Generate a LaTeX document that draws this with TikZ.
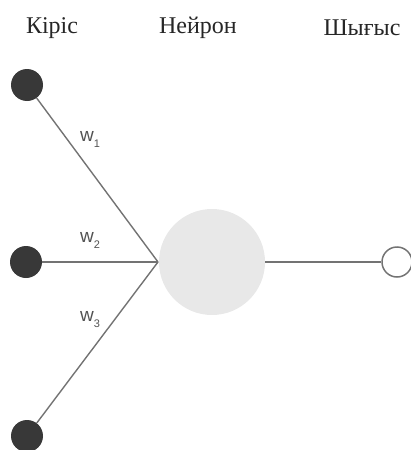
\documentclass[tikz,border=0pt]{standalone}
\usepackage{fontspec}
\setmainfont{Liberation Serif}
\newfontfamily\wfont{Liberation Sans}
\newcommand{\wsub}[1]{w\raisebox{-6pt}{\fontsize{11}{11}\selectfont #1}}
\begin{document}
\begin{tikzpicture}[x=1pt,y=-1pt,
  inp/.style={circle,fill=black!78,draw=none,minimum size=32pt,inner sep=0pt},
  neur/.style={circle,fill=gray!18,draw=none,minimum size=106pt,inner sep=0pt},
  outp/.style={circle,fill=white,draw=black!55,line width=1.5pt,minimum size=30pt,inner sep=0pt},
  conn/.style={draw=black!55,line width=1.4pt},
  wlab/.style={font=\wfont\fontsize{19}{19}\selectfont,text=black!68,inner sep=0pt},
  head/.style={font=\fontsize{24}{24}\selectfont,text=black!85,inner sep=0pt}]
\useasboundingbox (0,0) rectangle (411,450);
\node[head] (t1) at (52,28) {Кіріс};
\node[head] (t2) at (198,28) {Нейрон};
\node[head] (t3) at (362,28) {Шығыс};
\node[neur] (n) at (212,262) {};
\coordinate (nw) at (158,262);
\node[inp] (i1) at (27,85) {};
\node[inp] (i2) at (26,262) {};
\node[inp] (i3) at (27,436) {};
\node[outp] (o) at (397,262) {};
\draw[conn] (i1) -- (nw);
\draw[conn] (i2) -- (nw);
\draw[conn] (i3) -- (nw);
\draw[conn] (n) -- (o);
\node[wlab] (w1) at (90,139) {\wsub{1}};
\node[wlab] (w2) at (90,240) {\wsub{2}};
\node[wlab] (w3) at (90,320) {\wsub{3}};
\end{tikzpicture}
\end{document}
